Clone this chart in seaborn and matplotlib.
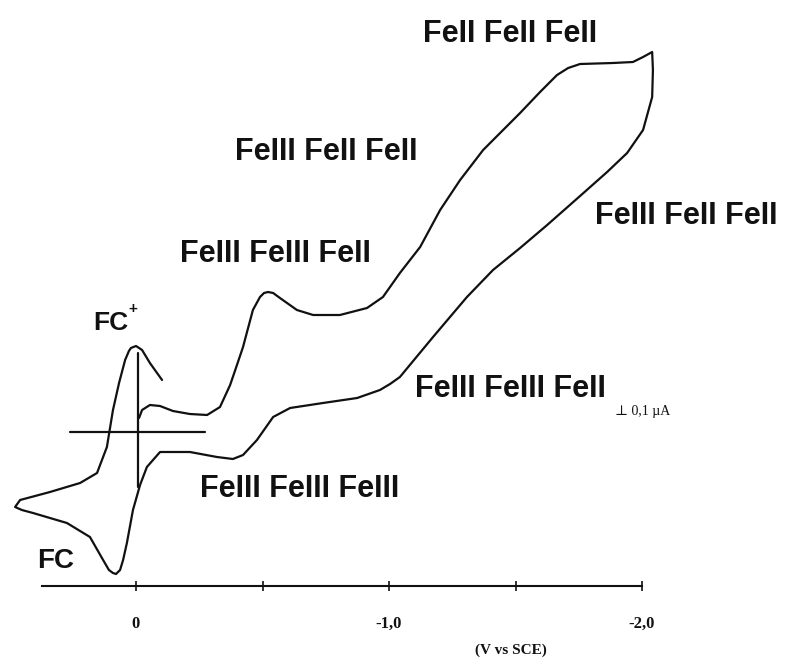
import numpy as np
import pandas as pd
import matplotlib
matplotlib.use("Agg")
import matplotlib.pyplot as plt
import seaborn as sns

# Cyclic voltammogram (potential in V vs SCE, current in uA, cathodic up)
potential = [-0.012, -0.024, -0.055, -0.095, -0.146, -0.213, -0.281, -0.332, -0.372, -0.399,
             -0.423, -0.462, -0.490, -0.506, -0.522, -0.542, -0.569, -0.636, -0.700, -0.806,
             -0.913, -0.976, -1.043, -1.123, -1.202, -1.281, -1.372, -1.439, -1.518, -1.597,
             -1.664, -1.708, -1.755, -1.885, -1.964, -2.004, -2.040, -2.043, -2.040, -2.004,
             -1.941, -1.862, -1.755, -1.625, -1.518, -1.411, -1.308, -1.174, -1.043, -1.004,
             -0.964, -0.874, -0.739, -0.609, -0.542, -0.478, -0.423, -0.383, -0.320, -0.213,
             -0.095, -0.043, -0.016, 0.012, 0.036, 0.051, 0.063, 0.079, 0.091, 0.107,
             0.130, 0.182, 0.273, 0.407, 0.451, 0.478, 0.458, 0.340, 0.221, 0.154,
             0.115, 0.091, 0.067, 0.043, 0.028, 0.020, 0.000, -0.024, -0.055, -0.103]
current = [0.14, 0.22, 0.27, 0.26, 0.21, 0.18, 0.17, 0.25, 0.47, 0.67,
           0.85, 1.22, 1.35, 1.39, 1.40, 1.39, 1.34, 1.22, 1.17, 1.17,
           1.24, 1.35, 1.59, 1.85, 2.22, 2.52, 2.82, 2.99, 3.19, 3.40,
           3.57, 3.64, 3.68, 3.69, 3.70, 3.75, 3.80, 3.62, 3.35, 3.02,
           2.79, 2.60, 2.36, 2.07, 1.84, 1.62, 1.35, 0.95, 0.55, 0.48,
           0.42, 0.34, 0.29, 0.24, 0.15, -0.08, -0.23, -0.27, -0.25, -0.20,
           -0.20, -0.35, -0.53, -0.78, -1.11, -1.28, -1.38, -1.42, -1.41, -1.38,
           -1.28, -1.05, -0.91, -0.81, -0.78, -0.75, -0.68, -0.60, -0.51, -0.41,
           -0.15, 0.22, 0.49, 0.72, 0.81, 0.84, 0.86, 0.82, 0.69, 0.52]

# Reference crosshair at 0 V / zero current
cross_h_E = [0.261, -0.273]
cross_h_I = [0.0, 0.0]
cross_v_E = [-0.008, -0.008]
cross_v_I = [0.79, -0.55]

tick_values = [0.0, -0.5, -1.0, -1.5, -2.0]
tick_labels = ["0", "", "-1,0", "", "-2,0"]
axis_start, axis_end = 0.37, -2.0

label_texts = ["FeII FeII FeII", "FeIII FeII FeII", "FeIII FeII FeII", "FeIII FeIII FeII",
               "FeIII FeIII FeII", "FeIII FeIII FeIII", "FC", "FC"]
label_E = [-1.478, -0.751, -2.174, -0.553, -1.478, -0.648, 0.100, 0.316]
label_I = [3.98, 2.80, 2.16, 1.78, 0.43, -0.57, 1.09, -1.29]
label_sizes = [22, 22, 22, 22, 22, 22, 19, 20]

sns.set_theme(style="white")
plt.rcParams['font.family'] = ['Liberation Sans', 'DejaVu Sans']

fig = plt.figure(figsize=(7.85, 6.6), dpi=100)
ax = fig.add_axes([0, 0, 1, 1])

df = pd.DataFrame({"E": potential, "I": current})
sns.lineplot(data=df, x="E", y="I", sort=False, estimator=None, ax=ax,
             color="#111111", linewidth=1.6, solid_joinstyle="round",
             solid_capstyle="round")
sns.lineplot(x=cross_h_E, y=cross_h_I, sort=False, estimator=None, ax=ax,
             color="#111111", linewidth=1.6)
sns.lineplot(x=cross_v_E, y=cross_v_I, sort=False, estimator=None, ax=ax,
             color="#111111", linewidth=1.6)

ax.set_xlim(0.5375, -2.565)
ax.set_ylim(-2.28, 4.32)
ax.set_xlabel("")
ax.set_ylabel("")
ax.set_facecolor("white")

for s in ["top", "right", "left"]:
    ax.spines[s].set_visible(False)
ax.spines["bottom"].set_position(("data", -1.54))
ax.spines["bottom"].set_bounds(axis_end, axis_start)
ax.spines["bottom"].set_color("#111111")
ax.spines["bottom"].set_linewidth(1.5)
ax.set_yticks([])
ax.set_xticks(tick_values)
ax.set_xticklabels(tick_labels)
ax.tick_params(axis="x", direction="inout", length=7, width=1.2, color="#111111",
               pad=18, bottom=True)
for t in ax.get_xticklabels():
    t.set_fontfamily(["Liberation Serif", "DejaVu Serif"])
    t.set_fontweight("bold")
    t.set_fontsize(12)
    t.set_color("#111111")

ax.text(-1.482, -2.18, "(V vs SCE)", ha="center", va="center", fontsize=11,
        fontweight="bold", family=["Liberation Serif", "DejaVu Serif"], color="#111111")

for txt, e, i, fs in zip(label_texts, label_E, label_I, label_sizes):
    ax.text(e, i, txt, ha="center", va="center", fontsize=fs,
            fontweight="bold", color="#111111")
ax.text(0.012, 1.23, "+", ha="center", va="center", fontsize=11, fontweight="bold",
        color="#111111")
ax.text(-2.004, 0.21, "\u22a5 0,1 \u00b5A", ha="center", va="center", fontsize=10,
        family=["Liberation Serif", "DejaVu Serif"], color="#111111")

fig.savefig("out.png", dpi=100, facecolor="white")
